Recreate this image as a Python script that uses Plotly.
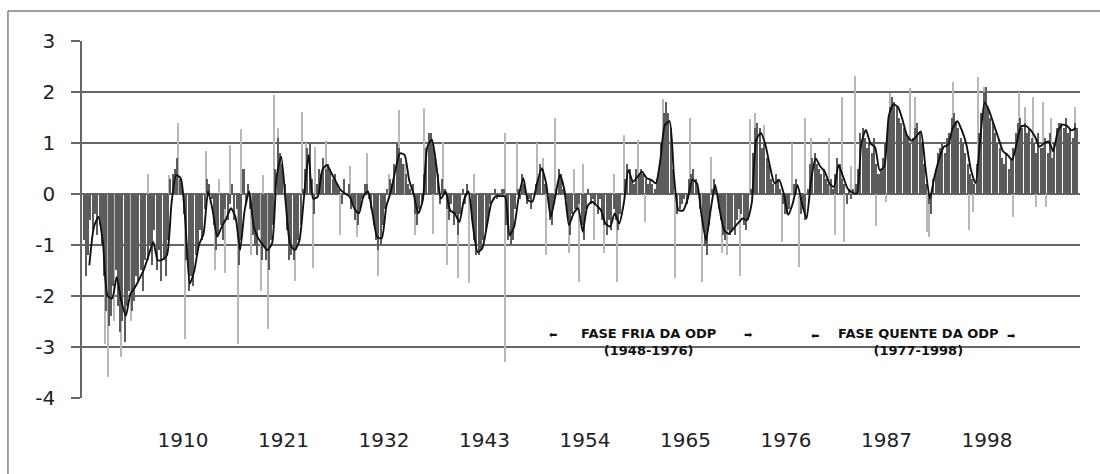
import plotly.graph_objects as go

# ---------------- DATA ----------------
ano_inicial = 1899  # first year of the quarterly series
odp_trimestral = [
    -0.9, -1.6, -1.2, -0.5,   # 1899
    -0.7, -0.4, -0.8, -0.6,   # 1900
    -1.0, -1.6, -2.3, -2.6,   # 1901
    -2.4, -1.8, -1.5, -2.2,   # 1902
    -2.7, -2.5, -2.9, -2.2,   # 1903
    -1.9, -2.3, -2.1, -1.6,   # 1904
    -1.7, -1.5, -1.9, -1.3,   # 1905
    -1.3, -1.0, -1.4, -0.7,   # 1906
    -1.5, -1.1, -1.7, -1.3,   # 1907
    -1.6, -0.9, 0.3, 0.4,     # 1908
    0.5, 0.7, 0.3, 0.2,       # 1909
    -0.4, -1.3, -1.9, -1.6,   # 1910
    -1.8, -1.2, -1.1, -0.7,   # 1911
    -0.9, -0.3, 0.3, 0.2,     # 1912
    -0.1, -0.6, -1.1, -0.8,   # 1913
    -0.6, -0.9, -0.3, -0.5,   # 1914
    -0.2, 0.2, -0.5, -0.3,    # 1915
    -1.4, -0.9, 0.5, -0.2,    # 1916
    0.2, -0.3, -0.8, -1.0,    # 1917
    -1.2, -0.7, -1.3, -1.0,   # 1918
    -1.3, -1.5, -0.9, -0.6,   # 1919
    0.5, 1.1, 0.8, 0.6,       # 1920
    0.2, -0.7, -1.3, -1.2,    # 1921
    -1.3, -1.1, -0.9, -0.6,   # 1922
    0.1, 0.5, 0.9, 1.0,       # 1923
    0.3, -0.4, 0.2, 0.5,      # 1924
    0.4, 0.7, 0.5, 0.6,       # 1925
    0.5, 0.3, 0.4, 0.2,       # 1926
    0.1, -0.2, 0.3, 0.0,      # 1927
    0.2, -0.3, -0.2, -0.5,    # 1928
    -0.6, -0.3, -0.1, 0.2,    # 1929
    0.2, -0.1, -0.3, -0.6,    # 1930
    -0.9, -1.1, -1.0, -0.6,   # 1931
    -0.3, 0.1, 0.3, 0.2,      # 1932
    0.6, 1.0, 0.9, 0.7,       # 1933
    0.6, 0.4, 0.2, 0.1,       # 1934
    0.2, -0.4, -0.6, -0.3,    # 1935
    -0.2, 0.4, 0.9, 1.2,      # 1936
    1.2, 1.0, 0.7, 0.4,       # 1937
    -0.2, 0.3, 0.1, -0.3,     # 1938
    -0.5, -0.2, -0.6, -0.4,   # 1939
    -0.8, -0.4, 0.1, -0.2,    # 1940
    0.2, 0.0, -0.5, -0.9,     # 1941
    -1.2, -1.2, -1.1, -0.9,   # 1942
    -0.7, -0.5, -0.2, 0.0,    # 1943
    0.1, -0.1, 0.0, 0.1,      # 1944
    0.1, -0.6, -0.9, -1.0,    # 1945
    -0.9, -0.3, 0.1, -0.1,    # 1946
    0.4, 0.2, -0.2, -0.1,     # 1947
    -0.3, 0.0, 0.2, 0.3,      # 1948
    0.6, 0.5, 0.2, 0.1,       # 1949
    -0.5, -0.6, -0.2, 0.1,    # 1950
    0.5, 0.4, 0.1, -0.1,      # 1951
    -0.5, -0.8, -0.4, -0.3,   # 1952
    -0.3, -0.2, -0.6, -0.9,   # 1953
    -0.3, 0.1, -0.2, -0.1,    # 1954
    -0.2, -0.4, -0.1, -0.5,   # 1955
    -0.6, -0.8, -0.5, -0.7,   # 1956
    -0.3, -0.5, -0.7, -0.4,   # 1957
    0.0, 0.3, 0.6, 0.5,       # 1958
    0.3, 0.2, 0.5, 0.4,       # 1959
    0.5, 0.4, 0.3, 0.2,       # 1960
    0.3, 0.2, 0.1, 0.3,       # 1961
    0.5, 1.0, 1.6, 1.8,       # 1962
    1.6, 1.3, 0.5, 0.0,       # 1963
    -0.4, -0.3, -0.2, -0.1,   # 1964
    -0.2, 0.3, 0.4, 0.5,      # 1965
    0.3, 0.1, -0.3, -0.6,     # 1966
    -1.0, -1.2, -0.6, 0.1,    # 1967
    0.3, 0.1, -0.3, -0.5,     # 1968
    -0.8, -0.9, -0.7, -0.8,   # 1969
    -0.7, -0.8, -0.5, -0.3,   # 1970
    -0.4, -0.6, -0.7, -0.5,   # 1971
    0.1, 0.8, 1.3, 1.4,       # 1972
    1.3, 0.9, 1.0, 0.7,       # 1973
    0.6, 0.3, 0.2, 0.4,       # 1974
    0.3, 0.1, -0.2, -0.4,     # 1975
    -0.4, -0.3, 0.0, 0.2,     # 1976
    0.3, 0.0, -0.4, -0.3,     # 1977
    -0.5, 0.1, 0.6, 0.7,      # 1978
    0.8, 0.6, 0.5, 0.4,       # 1979
    0.5, 0.3, 0.2, 0.3,       # 1980
    0.1, 0.4, 0.7, 0.6,       # 1981
    0.3, 0.2, -0.2, 0.1,      # 1982
    -0.1, 0.1, 0.2, 0.5,      # 1983
    1.2, 1.3, 1.1, 0.9,       # 1984
    1.0, 0.8, 1.1, 0.6,       # 1985
    0.4, 0.5, 0.7, 1.0,       # 1986
    1.4, 1.7, 1.9, 1.8,       # 1987
    1.7, 1.5, 1.4, 1.3,       # 1988
    1.2, 1.1, 1.0, 1.1,       # 1989
    1.3, 1.4, 1.2, 1.0,       # 1990
    0.6, 0.2, -0.2, -0.4,     # 1991
    0.3, 0.5, 0.8, 0.9,       # 1992
    1.0, 0.8, 1.1, 1.2,       # 1993
    1.5, 1.6, 1.4, 1.3,       # 1994
    1.1, 1.0, 0.8, 0.6,       # 1995
    0.4, 0.3, 0.2, 0.6,       # 1996
    1.2, 1.6, 2.0, 2.1,       # 1997
    1.7, 1.5, 1.4, 1.2,       # 1998
    1.0, 0.9, 0.7, 0.6,       # 1999
    0.8, 0.5, 0.7, 0.9,       # 2000
    1.2, 1.4, 1.5, 1.3,       # 2001
    1.4, 1.2, 1.3, 1.1,       # 2002
    1.0, 0.8, 1.2, 0.9,       # 2003
    0.9, 1.1, 0.8, 1.2,       # 2004
    0.7, 1.0, 1.3, 1.4,       # 2005
    1.4, 1.3, 1.5, 1.2,       # 2006
    1.3, 1.1, 1.4, 1.3,       # 2007
]

# isolated monthly extremes (thin light bars)
anos_picos = [
    1899.4, 1901.46, 1901.83, 1902.5, 1903.18, 1903.65, 1904.3, 1906.2, 1908.5,
    1909.49, 1910.2, 1912.5, 1913.5, 1913.9, 1914.6, 1915.14, 1916.06, 1916.4,
    1917.5, 1918.5, 1918.8, 1919.34, 1919.96, 1920.4, 1922.26, 1923.05, 1923.5,
    1924.2, 1924.45, 1925.7, 1927.2, 1928.3, 1929.0, 1930.1, 1931.4, 1932.5,
    1933.6, 1934.3, 1935.4, 1936.4, 1937.4, 1938.5, 1938.9, 1940.1, 1941.3,
    1941.9, 1945.2, 1945.3, 1946.6, 1948.7, 1949.4, 1949.7, 1950.7, 1952.2,
    1952.8, 1953.4, 1953.8, 1955.0, 1956.1, 1957.2, 1957.5, 1958.3, 1959.8,
    1960.6, 1962.5, 1963.8, 1965.5, 1966.8, 1967.8, 1969.0, 1969.5, 1971.0,
    1972.1, 1972.6, 1973.6, 1975.6, 1976.7, 1977.4, 1978.1, 1978.7, 1980.7,
    1981.4, 1982.1, 1982.3, 1983.1, 1983.6, 1985.8, 1986.9, 1987.4, 1989.6,
    1990.1, 1991.4, 1991.6, 1994.3, 1996.07, 1996.5, 1997.0, 1997.7, 2000.9,
    2001.5, 2002.2, 2003.0, 2003.4, 2004.1, 2004.5, 2005.0, 2007.6,
]
valores_picos = [
    -1.6, -2.95, -3.6, -2.5, -3.2, -2.8, -2.5, 0.4, 0.38,
    1.4, -2.85, 0.85, -1.5, 0.3, -1.55, 0.97, -2.95, 1.28,
    -1.2, -1.9, 0.37, -2.65, 1.95, 1.3, -1.7, 1.62, 1.0,
    -1.45, 0.93, 1.05, -0.8, 0.55, -0.85, 0.8, -1.6, 0.4,
    1.65, 0.6, -0.8, 1.69, -0.78, 1.03, -1.4, -1.65, -1.75,
    0.4, 1.2, -3.3, 1.0, 1.0, 0.7, -1.2, 1.5, -1.15,
    0.5, -1.72, 0.6, -0.9, -1.15, 0.4, -1.72, 1.15, 1.07,
    -0.55, 1.86, -1.65, 1.5, -1.72, 0.72, -1.15, -1.2, -1.6,
    1.47, 1.6, 1.35, -0.95, 1.0, -1.43, 1.5, 1.1, 1.1,
    -0.8, 1.9, -0.95, 0.55, 2.31, -0.62, -0.15, 1.98, 2.08,
    1.9, -0.75, -0.85, 2.2, -0.7, -0.35, 2.3, 2.1, -0.45,
    2.0, 1.7, 1.9, -0.25, 1.8, -0.25, 1.5, 1.7,
]

# running mean (black line), one value every half year from 1899.75
inicio_media = 1899.75
media_movel = [
    -1.4,
    -0.65, -0.45, -0.97, -2.0, -2.05, -1.63, -2.1, -2.39, -1.96, -1.83,   # 1900-1904
    -1.66, -1.47, -1.2, -0.94, -1.3, -1.29, -1.2, -0.18, 0.37, 0.31,       # 1905-1909
    -0.51, -1.76, -1.5, -1.0, -0.78, 0.05, -0.32, -0.84, -0.64, -0.48,     # 1910-1914
    -0.28, -0.45, -1.1, -0.32, 0.05, -0.64, -0.87, -1.0, -1.1, -0.97,      # 1915-1919
    0.34, 0.74, -0.18, -1.0, -1.1, -0.91, -0.05, 0.77, -0.09, -0.05,       # 1920-1924
    0.47, 0.57, 0.41, 0.24, 0.08, 0.01, -0.05, -0.28, -0.38, -0.05,        # 1925-1929
    0.05, -0.38, -0.84, -0.87, -0.25, 0.05, 0.47, 0.8, 0.77, 0.28,         # 1930-1934
    0.0, -0.38, -0.12, 0.93, 1.07, 0.54, -0.09, 0.05, -0.32, -0.38,        # 1935-1939
    -0.55, -0.12, 0.05, -0.64, -1.14, -1.07, -0.64, -0.18, -0.04, -0.04,   # 1940-1944
    -0.05, -0.81, -0.64, -0.05, 0.31, -0.12, -0.15, 0.21, 0.51, 0.21,      # 1945-1949
    -0.45, -0.05, 0.38, 0.08, -0.61, -0.38, -0.28, -0.74, -0.25, -0.15,    # 1950-1954
    -0.22, -0.32, -0.58, -0.64, -0.38, -0.58, -0.18, 0.47, 0.24, 0.34,     # 1955-1959
    0.44, 0.31, 0.28, 0.21, 0.67, 1.36, 1.43, 0.34, -0.32, -0.32,          # 1960-1964
    -0.09, 0.28, 0.21, -0.41, -0.91, -0.32, 0.18, -0.32, -0.71, -0.78,     # 1965-1969
    -0.68, -0.57, -0.48, -0.51, -0.18, 1.07, 1.2, 0.97, 0.54, 0.21,        # 1970-1974
    0.28, 0.01, -0.41, -0.18, 0.18, -0.18, -0.48, 0.28, 0.7, 0.54,         # 1975-1979
    0.44, 0.21, 0.14, 0.57, 0.34, 0.11, 0.03, 0.01, 1.0, 1.26,             # 1980-1984
    0.99, 0.92, 0.47, 0.54, 1.53, 1.76, 1.71, 1.46, 1.15, 1.05,            # 1985-1989
    1.13, 1.23, 0.54, -0.09, 0.34, 0.68, 0.92, 0.97, 1.3, 1.43,            # 1990-1994
    1.25, 0.97, 0.47, 0.21, 1.07, 1.8, 1.63, 1.36, 1.1, 0.84,              # 1995-1999
    0.77, 0.67, 1.0, 1.33, 1.34, 1.26, 1.13, 0.93, 1.0, 1.03,              # 2000-2004
    0.84, 1.23, 1.36, 1.34, 1.25, 1.3,                                     # 2005-2007
]

rotulos_anos = [1910, 1921, 1932, 1943, 1954, 1965, 1976, 1987, 1998]
rotulos_y = [3, 2, 1, 0, -1, -2, -3, -4]

# ---------------- FIGURE ----------------
x_trim = [ano_inicial + 0.125 + 0.25 * i for i in range(len(odp_trimestral))]
x_media = [inicio_media + 0.5 * i for i in range(len(media_movel))]

fig = go.Figure()
fig.add_trace(go.Bar(x=anos_picos, y=valores_picos, width=0.11,
                     marker=dict(color="#b8b8b8", line=dict(width=0)),
                     showlegend=False, hoverinfo="skip"))
fig.add_trace(go.Bar(x=x_trim, y=odp_trimestral, width=0.22,
                     marker=dict(color="#5c5c5c", line=dict(width=0)),
                     showlegend=False))
fig.add_trace(go.Scatter(x=x_media, y=media_movel, mode="lines",
                         line=dict(color="#111111", width=1.9, shape="spline", smoothing=0.6),
                         showlegend=False))

ann_font = dict(family="DejaVu Sans", size=13, color="#111111")
arrow_font = dict(family="DejaVu Sans", size=10, color="#111111")
annotations = [
    dict(x=1960.9, y=-2.91, text="<b>FASE FRIA DA ODP<br>(1948-1976)</b>", font=ann_font),
    dict(x=1990.5, y=-2.91, text="<b>FASE QUENTE DA ODP<br>(1977-1998)</b>", font=ann_font),
    dict(x=1950.5, y=-2.75, text="⬅", font=arrow_font),
    dict(x=1971.95, y=-2.75, text="➡", font=arrow_font),
    dict(x=1979.2, y=-2.77, text="⬅", font=arrow_font),
    dict(x=2000.7, y=-2.77, text="➡", font=arrow_font),
]
for a in annotations:
    a.update(xref="x", yref="y", showarrow=False, xanchor="center", yanchor="middle")

fig.update_layout(
    width=1100, height=474,
    margin=dict(l=82, r=20, t=41, b=76),
    paper_bgcolor="white", plot_bgcolor="white",
    barmode="overlay", bargap=0,
    annotations=annotations,
    shapes=[
        dict(type="line", xref="paper", yref="paper", x0=-0.0742, x1=-0.0742, y0=-0.25, y1=1.084,
             line=dict(color="#808080", width=1.5)),
        dict(type="line", xref="paper", yref="paper", x0=-0.0742, x1=1.05, y0=1.084, y1=1.084,
             line=dict(color="#808080", width=1.5)),
    ],
    xaxis=dict(range=[1898.95, 2008.18], tickvals=rotulos_anos,
               ticktext=[str(v) for v in rotulos_anos], ticks="", showgrid=False,
               zeroline=False, showline=False, ticklabelstandoff=28,
               tickfont=dict(family="DejaVu Sans", size=20, color="#222222")),
    yaxis=dict(range=[-4.006, 3.006], tickvals=rotulos_y, ticktext=[str(v) for v in rotulos_y],
               showgrid=True, gridcolor="#666666", gridwidth=1.6,
               zeroline=True, zerolinecolor="#666666", zerolinewidth=1.6,
               showline=True, linecolor="#666666", linewidth=1.6,
               ticks="outside", ticklen=9, tickcolor="#666666", tickwidth=1.6,
               ticklabelstandoff=12,
               tickfont=dict(family="DejaVu Sans", size=20, color="#222222")),
)

fig.write_html("out.html", config={"displayModeBar": False},
               post_script="document.body.style.margin='0';")
